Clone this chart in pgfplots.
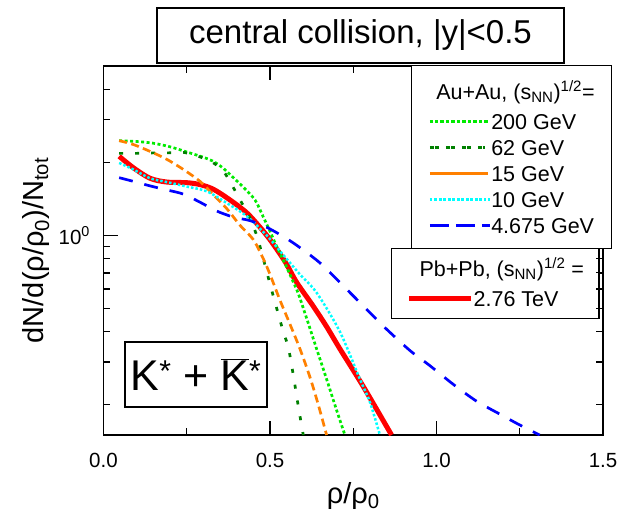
\documentclass[border=0pt]{standalone}
\usepackage{fontspec}
\setmainfont{Liberation Sans}
\usepackage{pgfplots}
\pgfplotsset{compat=1.18}

\definecolor{cAA200}{RGB}{0,235,0}
\definecolor{cAA62}{RGB}{0,128,0}
\definecolor{cAA15}{RGB}{255,128,0}
\definecolor{cAA10}{RGB}{0,255,255}
\definecolor{cAA4}{RGB}{0,0,255}
\definecolor{cPbPb}{RGB}{255,0,0}

\pgfplotsset{
  s200/.style={cAA200, line width=2.7pt, dash pattern=on 3pt off 2.5pt},
  s62/.style={cAA62, line width=2.7pt, dash pattern=on 4pt off 12pt},
  s15/.style={cAA15, line width=2.7pt, dash pattern=on 8pt off 4.5pt},
  s10/.style={cAA10, line width=2.5pt, dash pattern=on 2.5pt off 2pt},
  s4/.style={cAA4, line width=2.7pt, dash pattern=on 14pt off 12pt},
  sPb/.style={cPbPb, line width=5pt},
  legendbox/.style={
    legend cell align=left,
    legend image code/.code={\path (-#1,0pt) -- (55pt,0pt);\draw[##1] (0pt,0pt) -- (50pt,0pt);},
    legend style={anchor=north west, draw=black, line width=1.2pt, fill=white,
      font=\fontsize{21.5pt}{25pt}\selectfont, inner xsep=22pt-#1,
      row sep=4pt, column sep=0pt,
      nodes={inner sep=0pt, text height=18.7pt, text depth=3.3pt}},
  },
}

\begin{document}
\begin{tikzpicture}
\useasboundingbox (-103.5pt,-79pt) rectangle (531.5pt,435pt);
\begin{axis}[
  at={(0pt,0pt)}, anchor=south west,
  scale only axis, width=499.5pt, height=369pt,
  xmin=0, xmax=1.5, ymin=0.15, ymax=5, ymode=log,
  legendbox=5pt,
  legend style={at={(0.6156,1.003)}, inner ysep=12pt},
  xtick={0,0.5,1,1.5}, xticklabels={0.0,0.5,1.0,1.5},
  minor xtick={0.25,0.75,1.25},
  ytick={1}, yticklabels={10\textsuperscript{0}},
  minor ytick={0.2,0.3,0.4,0.5,0.6,0.7,0.8,0.9,2,3,4},
  tick align=inside,
  major tick length=14pt, minor tick length=7pt,
  tick style={draw=black, line width=1.2pt},
  axis line style={line width=1.3pt},
  tick label style={font=\fontsize{20.5pt}{24pt}\selectfont},
  xticklabel shift=15pt,
  yticklabel shift=10pt,
  label style={font=\fontsize{29pt}{33pt}\selectfont},
  xlabel={ρ/ρ\textsubscript{0}},
  ylabel={dN/d(ρ/ρ\textsubscript{0})/N\textsubscript{tot}},
  xlabel style={at={(axis description cs:0.5,-0.165)}, anchor=center},
  ylabel style={at={(axis description cs:-0.135,0.5)}, anchor=center},
  every axis plot/.append style={smooth, tension=0.5},
]
% Pb+Pb 2.76 TeV, drawn first so the Au+Au curves lie on top
\addplot[sPb, forget plot] coordinates {
  (0.047,2.12) (0.09,1.90) (0.14,1.72) (0.19,1.66) (0.25,1.65) (0.29,1.62)
  (0.33,1.55) (0.38,1.40) (0.43,1.24) (0.47,1.08) (0.50,0.96) (0.545,0.78)
  (0.58,0.64) (0.63,0.51) (0.67,0.42) (0.71,0.34) (0.78,0.238) (0.865,0.15)
};
\addlegendimage{empty legend}
\addlegendentry[text height=21.7pt, text depth=7.3pt]{\hspace*{-55pt}Au+Au, (s\textsubscript{NN})\textsuperscript{1/2}=}
% Au+Au 200 GeV
\addplot[s200] coordinates {
  (0.047,2.46) (0.10,2.44) (0.15,2.40) (0.20,2.32) (0.25,2.21) (0.30,2.10)
  (0.33,2.02) (0.36,1.89) (0.39,1.73) (0.42,1.58) (0.455,1.40) (0.48,1.19)
  (0.50,1.04) (0.52,0.90) (0.545,0.765) (0.565,0.665) (0.585,0.575)
  (0.61,0.455) (0.64,0.34) (0.67,0.255) (0.70,0.19) (0.725,0.15)
};
\addlegendentry{200 GeV}
% Au+Au 62 GeV
\addplot[s62] coordinates {
  (0.047,2.18) (0.10,2.18) (0.15,2.19) (0.195,2.19) (0.24,2.20) (0.285,2.12)
  (0.33,1.99) (0.36,1.84) (0.385,1.62) (0.41,1.40) (0.435,1.22) (0.46,1.00)
  (0.48,0.80) (0.50,0.63) (0.515,0.53) (0.54,0.40) (0.555,0.345) (0.57,0.265)
  (0.585,0.197) (0.60,0.15)
};
\addlegendentry{62 GeV}
% Au+Au 15 GeV
\addplot[s15] coordinates {
  (0.047,2.46) (0.09,2.37) (0.14,2.22) (0.19,2.06) (0.24,1.87) (0.29,1.67)
  (0.33,1.47) (0.37,1.29) (0.41,1.10) (0.45,0.96) (0.48,0.80) (0.50,0.69)
  (0.53,0.54) (0.56,0.43) (0.59,0.34) (0.62,0.26) (0.645,0.20) (0.67,0.15)
};
\addlegendentry{15 GeV}
% Au+Au 10 GeV
\addplot[s10] coordinates {
  (0.047,1.99) (0.09,1.87) (0.14,1.72) (0.19,1.66) (0.25,1.59) (0.31,1.52)
  (0.37,1.36) (0.43,1.20) (0.49,1.00) (0.54,0.83) (0.59,0.69) (0.64,0.58)
  (0.71,0.40) (0.77,0.255) (0.80,0.205) (0.83,0.15)
};
\addlegendentry{10 GeV}
% Au+Au 4.675 GeV
\addplot[s4] coordinates {
  (0.047,1.73) (0.09,1.67) (0.14,1.60) (0.19,1.54) (0.24,1.48) (0.29,1.37)
  (0.34,1.26) (0.39,1.19) (0.44,1.15) (0.49,1.08) (0.55,0.97) (0.60,0.87)
  (0.65,0.77) (0.70,0.66) (0.76,0.545) (0.81,0.465) (0.85,0.41) (0.92,0.335)
  (0.98,0.29) (1.05,0.243) (1.12,0.207) (1.19,0.183) (1.25,0.165) (1.31,0.15)
};
\addlegendentry{4.675 GeV}
\end{axis}

% second legend for the Pb+Pb curve
\begin{axis}[
  at={(0pt,0pt)}, anchor=south west,
  scale only axis, width=499.5pt, height=369pt,
  xmin=0, xmax=1.5, ymin=0.15, ymax=5, ymode=log,
  hide axis, legendbox=7pt,
  legend style={at={(0.5756,0.5068)}, inner ysep=9pt},
]
\addlegendimage{empty legend}
\addlegendentry[text height=18.7pt, text depth=7.3pt]{\hspace*{-54pt}Pb+Pb, (s\textsubscript{NN})\textsuperscript{1/2} =}
\addlegendimage{sPb}
\addlegendentry{2.76 TeV}
\end{axis}

% tick marks on the frame (x: 333pt per unit; y: 242.3pt per decade above 0.15)
\begin{scope}[line width=1.2pt, black]
  \foreach \x in {166.5,333} \draw (\x pt,0pt) -- ++(0pt,14pt);
  \foreach \x in {83.25,249.75,416.25} \draw (\x pt,0pt) -- ++(0pt,7pt);
  \draw (166.5pt,369pt) -- ++(0pt,-14pt);
  \foreach \x in {83.25,249.75} \draw (\x pt,369pt) -- ++(0pt,-7pt);
  \draw (0pt,199.63pt) -- ++(14pt,0pt);
  \foreach \y in {30.27,72.94,103.2,126.7,145.9,162.1,176.15,188.55,272.57,315.24,345.5}
    \draw (0pt,\y pt) -- ++(7pt,0pt);
  \foreach \y in {30.27,72.94,103.2,126.7,145.9,162.1,176.15}
    \draw (499.5pt,\y pt) -- ++(-7pt,0pt);
\end{scope}

\node[draw=black, line width=1.2pt, fill=white, minimum width=407pt,
  minimum height=55pt, inner sep=0pt, font=\fontsize{33pt}{36pt}\selectfont]
  at (257pt,399.5pt) {central collision, |y|<0.5};

\node[draw=black, line width=1.2pt, fill=white, minimum width=142pt,
  minimum height=65pt, inner sep=0pt, font=\fontsize{43pt}{46pt}\selectfont]
  at (92.5pt,60.5pt) {K\textsuperscript{*} + $\overline{\mbox{K}}$\textsuperscript{*}};
\end{tikzpicture}
\end{document}
